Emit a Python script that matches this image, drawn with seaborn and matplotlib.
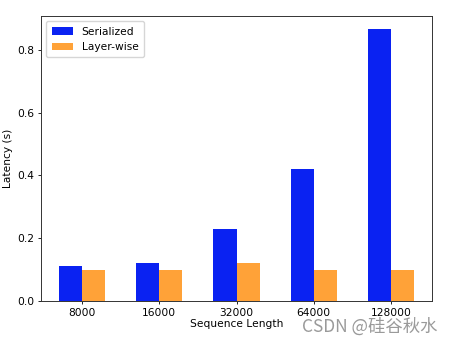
import matplotlib
matplotlib.use("Agg")
import matplotlib.pyplot as plt
import seaborn as sns
import pandas as pd

seq_lengths = ["8000", "16000", "32000", "64000", "128000"]
serialized = [0.11, 0.12, 0.23, 0.42, 0.865]
layer_wise = [0.10, 0.10, 0.12, 0.10, 0.10]
methods = ["Serialized", "Layer-wise"]
colors = ["#0a22f2", "#ffa238"]

df = pd.DataFrame({
    "length": seq_lengths * 2,
    "latency": serialized + layer_wise,
    "method": [methods[0]] * len(seq_lengths) + [methods[1]] * len(seq_lengths),
})

plt.rcParams["font.family"] = ["DejaVu Sans"]
fs = 7.7
fig = plt.figure(figsize=(4.54, 3.44), dpi=100)
ax = fig.add_axes([41 / 454, 43 / 344, 391 / 454, 285 / 344])

sns.barplot(data=df, x="length", y="latency", hue="method", order=seq_lengths,
            hue_order=methods, palette=colors, saturation=1, width=0.6,
            errorbar=None, ax=ax)

ax.set_xlim(-0.53, len(seq_lengths) - 1 + 0.53)
ax.set_ylim(0, 0.908)
ax.set_yticks([0.0, 0.2, 0.4, 0.6, 0.8])
ax.tick_params(labelsize=fs, length=2.5, width=0.6, pad=2.5)
for s in ax.spines.values():
    s.set_linewidth(0.7)
    s.set_color("#333333")
ax.set_xlabel("Sequence Length", fontsize=fs, labelpad=1)
ax.set_ylabel("Latency (s)", fontsize=fs, labelpad=3)
ax.legend(title=None, loc="upper left", fontsize=fs, handlelength=2.0,
          borderpad=0.5, labelspacing=0.5, framealpha=0.8)

fig.text(0.963, 0.052, "CSDN @硅谷秋水", ha="right", va="center", fontsize=12.5,
         color="#9a9a9a", family=["Noto Sans CJK SC", "DejaVu Sans"])

fig.savefig("out.png", dpi=100)
